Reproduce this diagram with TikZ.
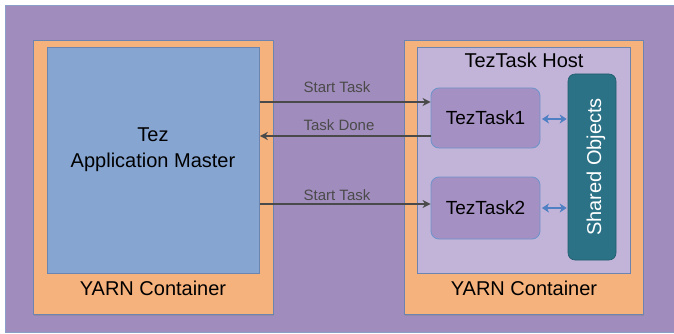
\documentclass[tikz,border=0pt]{standalone}
\usepackage{fontspec}
\setmainfont{Liberation Sans}
\usetikzlibrary{arrows.meta,shadows}
\definecolor{bgpurple}{HTML}{A18DBD}
\definecolor{edgeblue}{HTML}{8C9FC9}
\definecolor{orangec}{HTML}{F6B27C}
\definecolor{bluec}{HTML}{86A5D1}
\definecolor{lavc}{HTML}{C2B4D8}
\definecolor{taskc}{HTML}{A490C3}
\definecolor{taskedge}{HTML}{7294CB}
\definecolor{tealc}{HTML}{2B7287}
\definecolor{boxedge}{HTML}{6C84B0}
\definecolor{arrgray}{HTML}{4A4A4A}
\definecolor{arrblue}{HTML}{4F80C4}
\tikzset{
  panel/.style={draw=boxedge, line width=0.8pt, inner sep=0pt, anchor=north west},
  container/.style={panel, fill=orangec, drop shadow={shadow xshift=1pt, shadow yshift=-1.5pt, opacity=0.35}},
  taskbox/.style={draw=taskedge, fill=taskc, line width=0.9pt, rounded corners=8pt, inner sep=0pt,
     minimum width=109pt, font=\fontsize{19}{22}\selectfont},
  bigtxt/.style={font=\fontsize{20}{24}\selectfont, anchor=base, text=black},
  lbl/.style={font=\fontsize{15}{18}\selectfont, anchor=base, text=arrgray},
  arr/.style={draw=arrgray, line width=1.6pt, -{Stealth[length=8pt,width=8pt,inset=2.5pt]}},
  darr/.style={draw=arrblue, line width=2.2pt, {Stealth[length=7pt,width=9pt,inset=2pt]}-{Stealth[length=7pt,width=9pt,inset=2pt]}, shorten <=1.5pt, shorten >=1pt}
}
\begin{document}
\begin{tikzpicture}[x=1pt,y=-1pt]
\useasboundingbox (0,0) rectangle (674,334);
\fill[white] (0,0) rectangle (674,334);
\node[panel, draw=edgeblue, fill=bgpurple, minimum width=672pt, minimum height=327pt] (bg) at (5,5) {};
% left container
\node[container, minimum width=240pt, minimum height=274pt] (lc) at (33,40) {};
\node[panel, fill=bluec, minimum width=212pt, minimum height=226pt] (am) at (47,47) {};
\node[bigtxt] (tez) at (153,142) {Tez};
\node[bigtxt] (amtxt) at (153,167) {Application Master};
\node[bigtxt] (ylc) at (153,295) {YARN Container};
% right container
\node[container, minimum width=239pt, minimum height=274pt] (rc) at (404,40) {};
\node[panel, fill=lavc, minimum width=213pt, minimum height=226pt] (host) at (417,47) {};
\node[bigtxt] (hosttxt) at (524,68) {TezTask Host};
\node[bigtxt] (yrc) at (524,295) {YARN Container};
\node[taskbox, minimum height=60pt] (t1) at (485.5,118) {TezTask1};
\node[taskbox, minimum height=62pt] (t2) at (485.5,208) {TezTask2};
\node[draw=tealc!80!black, line width=0.6pt, fill=tealc, rounded corners=7pt, minimum width=48pt, minimum height=186pt, inner sep=0pt] (so) at (592,167) {};
\node[font=\fontsize{20}{24}\selectfont, text=white, rotate=90, anchor=base] (sotxt) at (601,167) {Shared Objects};
% arrows
\draw[arr] ([yshift=16pt]t1.west -| am.east) -- ([yshift=16pt]t1.west);
\draw[arr] ([yshift=-18pt]t1.west) -- ([yshift=-18pt]t1.west -| am.east);
\draw[arr] ([yshift=4pt]t2.west -| am.east) -- ([yshift=4pt]t2.west);
\node[lbl] (l1) at (337,93) {Start Task};
\node[lbl] (l2) at (339,131) {Task Done};
\node[lbl] (l3) at (337,200) {Start Task};
\draw[darr] ([yshift=-1pt]t1.east) -- ([yshift=-1pt]t1.east -| so.west);
\draw[darr] (t2.east) -- (t2.east -| so.west);
\end{tikzpicture}
\end{document}
